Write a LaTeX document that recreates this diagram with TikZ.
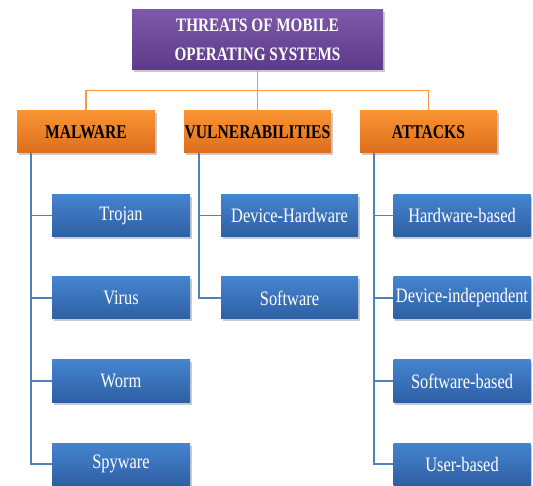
\documentclass[tikz,border=0pt]{standalone}
\usepackage{fontspec}
\setmainfont{Liberation Serif}[FakeStretch=0.8]
\usetikzlibrary{shadows}

\definecolor{purpleTop}{HTML}{7E58AA}
\definecolor{purpleBot}{HTML}{5C3B88}
\definecolor{orangeTop}{HTML}{FA9432}
\definecolor{orangeBot}{HTML}{DC6E1E}
\definecolor{blueTop}{HTML}{4584D0}
\definecolor{blueBot}{HTML}{2E5FA3}
\definecolor{orangeLine}{HTML}{F79646}
\definecolor{blueLine}{HTML}{4F81BD}

\tikzset{
  boxshadow/.style={drop shadow={opacity=0.35, shadow xshift=1.5pt, shadow yshift=-2.5pt, fill=black!60}},
  rootbox/.style={boxshadow, top color=purpleTop, bottom color=purpleBot,
    minimum width=251pt, minimum height=60pt, inner sep=0pt,
    text=white, font=\fontsize{19}{29}\selectfont\bfseries, align=center},
  groupbox/.style={boxshadow, top color=orangeTop, bottom color=orangeBot,
    minimum height=42pt, inner sep=0pt,
    text=black, font=\fontsize{19.5}{22}\selectfont\bfseries},
  leafbox/.style={boxshadow, top color=blueTop, bottom color=blueBot,
    minimum height=42pt, inner sep=0pt,
    text=white, font=\fontsize{20.5}{22}\selectfont},
  orangelink/.style={draw=orangeLine, line width=1.3pt},
  bluelink/.style={draw=blueLine, line width=1.3pt},
}

\begin{document}
\begin{tikzpicture}[x=1pt, y=-1pt]
  \useasboundingbox (0,0) rectangle (533,486);

  % root
  \node[rootbox] (root) at (257.5,40) {THREATS OF MOBILE\\OPERATING SYSTEMS};

  % groups
  \node[groupbox, minimum width=138pt] (mal) at (86,132) {MALWARE};
  \node[groupbox, minimum width=147pt] (vul) at (257.5,132) {VULNERABILITIES};
  \node[groupbox, minimum width=137pt] (att) at (428.5,132) {ATTACKS};

  % leaves: malware
  \node[leafbox, minimum width=138pt] (trojan)  at (121,215.5) {Trojan};
  \node[leafbox, minimum width=138pt] (virus)   at (121,298)   {Virus};
  \node[leafbox, minimum width=138pt] (worm)    at (121,381)   {Worm};
  \node[leafbox, minimum width=138pt] (spyware) at (121,464)   {Spyware};

  % leaves: vulnerabilities
  \node[leafbox, minimum width=137pt] (devhw) at (289.5,215.5) {Device-Hardware};
  \node[leafbox, minimum width=137pt] (soft)  at (289.5,298)   {Software};

  % leaves: attacks
  \node[leafbox, minimum width=137pt] (hwb)   at (462,215.5) {Hardware-based};
  \node[leafbox, minimum width=137pt] (devin) at (462,298)   {Device-independent};
  \node[leafbox, minimum width=137pt] (swb)   at (462,381)   {Software-based};
  \node[leafbox, minimum width=137pt] (usb)   at (462,464)   {User-based};

  % root to groups
  \coordinate (bus) at (257.5,90.5);
  \draw[orangelink] (root.south) -- (vul.north);
  \draw[orangelink] (mal.north) |- (bus) -| (att.north);

  % group spines
  \coordinate (malspine) at (31,0);
  \coordinate (vulspine) at (199,0);
  \coordinate (attspine) at (374,0);

  \draw[bluelink] (mal.south -| malspine) |- (spyware.west);
  \foreach \n in {trojan,virus,worm}
    \draw[bluelink] (\n.west -| malspine) -- (\n.west);

  \draw[bluelink] (vul.south -| vulspine) |- (soft.west);
  \draw[bluelink] (devhw.west -| vulspine) -- (devhw.west);

  \draw[bluelink] (att.south -| attspine) |- (usb.west);
  \foreach \n in {hwb,devin,swb}
    \draw[bluelink] (\n.west -| attspine) -- (\n.west);
\end{tikzpicture}
\end{document}
